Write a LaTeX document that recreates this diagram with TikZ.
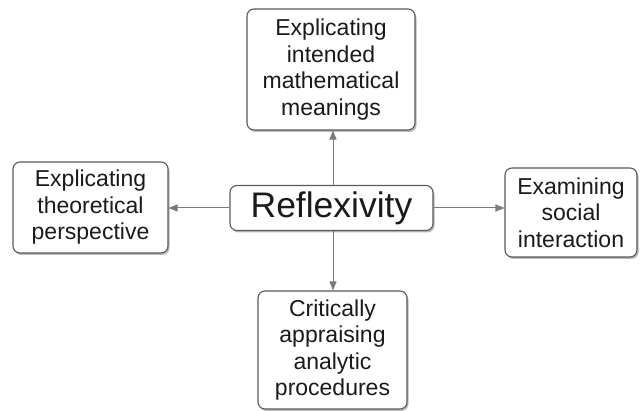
\documentclass[tikz,border=0pt]{standalone}
\usepackage{fontspec}
\setmainfont{Liberation Sans}
\usetikzlibrary{arrows.meta,shadows}
\definecolor{boxline}{HTML}{5A5A5A}
\definecolor{arrowline}{HTML}{7A7A7A}
\definecolor{txt}{HTML}{1A1A1A}
\begin{document}
\begin{tikzpicture}[x=1pt,y=-1pt,
  box/.style={draw=boxline, line width=1.1pt, rounded corners=7pt, fill=white,
    align=center, text=txt, inner sep=0pt,
    font=\fontsize{23}{26.5}\selectfont,
    drop shadow={shadow xshift=1.5pt, shadow yshift=-2pt, fill=black!45, opacity=0.6}},
  conn/.style={draw=arrowline, line width=1pt, -{Triangle[length=9pt,width=7pt]}}]
\useasboundingbox (0,0) rectangle (642,411);
\node[box, minimum width=168pt, minimum height=121pt] (top) at (331,69.5)
  {Explicating\\intended\\mathematical\\meanings};
\node[box, minimum width=203pt, minimum height=45pt, font=\fontsize{35.5}{40}\selectfont] (mid) at (331.5,208)
  {Reflexivity};
\node[box, minimum width=155pt, minimum height=91pt] (left) at (90.5,207.5)
  {Explicating\\theoretical\\perspective};
\node[box, minimum width=132pt, minimum height=89pt] (right) at (571,212.5)
  {Examining\\social\\interaction};
\node[box, minimum width=149pt, minimum height=118pt] (bot) at (332.5,350)
  {Critically\\appraising\\analytic\\procedures};
\draw[conn] ([xshift=1.5pt]mid.north) -- ([xshift=1.5pt]mid.north |- top.south);
\draw[conn] ([xshift=1.5pt]mid.south) -- ([xshift=1.5pt]mid.south |- bot.north);
\draw[conn] (mid.west) -- (mid.west -| left.east);
\draw[conn] (mid.east) -- (mid.east -| right.west);
\end{tikzpicture}
\end{document}
